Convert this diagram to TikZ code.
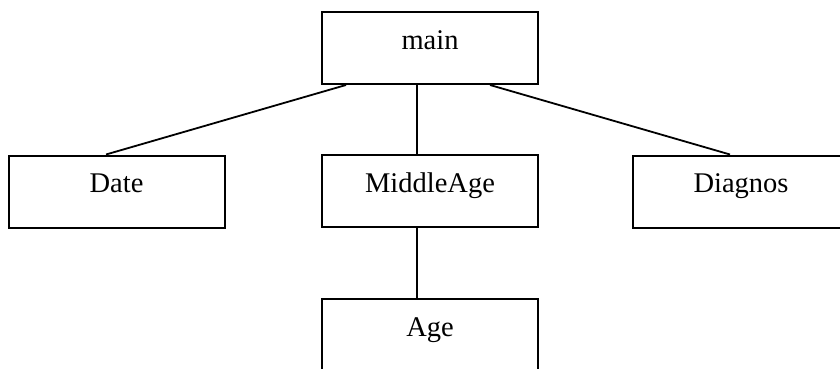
\documentclass[tikz,border=0pt]{standalone}
\usepackage{fontspec}
\setmainfont{Liberation Serif}
\begin{document}
\begin{tikzpicture}[x=1pt,y=-1pt,
  box/.style={draw,line width=2pt,minimum width=216pt,minimum height=72pt,inner sep=0pt},
  txt/.style={anchor=base,inner sep=0pt,font=\fontsize{28.5}{34}\selectfont},
  conn/.style={line width=1.8pt}]
\useasboundingbox (0,0) rectangle (840,369);
\clip (0,0) rectangle (840,369);
\node[box] (main) at (430,48) {};
\node[box] (date) at (116.5,191.5) {};
\node[box] (mid) at (430,191) {};
\node[box] (diag) at (741,191.5) {};
\node[box] (age) at (430,335) {};
\node[txt] (tmain) at ([yshift=-38pt]main.north) {main};
\node[txt] (tdate) at ([yshift=-38pt]date.north) {Date};
\node[txt] (tmid) at ([yshift=-38pt]mid.north) {MiddleAge};
\node[txt] (tdiag) at ([yshift=-38pt]diag.north) {Diagnos};
\node[txt] (tage) at ([yshift=-38pt]age.north) {Age};
\draw[conn] ([xshift=-84pt]main.south) -- ([xshift=-10.5pt]date.north);
\draw[conn] ([xshift=-13pt]main.south) -- ([xshift=-13pt]mid.north);
\draw[conn] ([xshift=60pt]main.south) -- ([xshift=-11pt]diag.north);
\draw[conn] ([xshift=-13pt]mid.south) -- ([xshift=-13pt]age.north);
\end{tikzpicture}
\end{document}
